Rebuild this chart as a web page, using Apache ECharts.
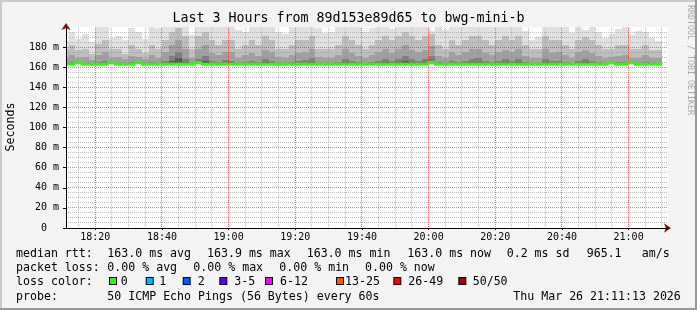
<!DOCTYPE html>
<html><head><meta charset="utf-8">
<script src="https://cdn.jsdelivr.net/npm/echarts@6/dist/echarts.min.js"></script>
<style>html,body{margin:0;padding:0;background:#f3f3f3}#c{width:697px;height:310px}</style>
</head><body><div id="c"></div>
<script>
// ---------- data ----------
const chartTitle = 'Last 3 Hours from 89d153e89d65 to bwg-mini-b';
const axisStart = '18:11:13';
const axisEnd = '21:11:49';
const majorTickLabels = ['18:20','18:40','19:00','19:20','19:40','20:00','20:20','20:40','21:00'];
const yTickValues = [0,20,40,60,80,100,120,140,160,180];

// end time of each 2-minute bucket
const bucketEnds = [
 "18:12","18:14","18:16","18:18","18:20","18:22","18:24","18:26","18:28","18:30",
 "18:32","18:34","18:36","18:38","18:40","18:42","18:44","18:46","18:48","18:50",
 "18:52","18:54","18:56","18:58","19:00","19:02","19:04","19:06","19:08","19:10",
 "19:12","19:14","19:16","19:18","19:20","19:22","19:24","19:26","19:28","19:30",
 "19:32","19:34","19:36","19:38","19:40","19:42","19:44","19:46","19:48","19:50",
 "19:52","19:54","19:56","19:58","20:00","20:02","20:04","20:06","20:08","20:10",
 "20:12","20:14","20:16","20:18","20:20","20:22","20:24","20:26","20:28","20:30",
 "20:32","20:34","20:36","20:38","20:40","20:42","20:44","20:46","20:48","20:50",
 "20:52","20:54","20:56","20:58","21:00","21:02","21:04","21:06","21:08","21:10"];

// median rtt (ms)
const medianRtt = [
 163.0,163.0,164.7,163.0,163.0,163.0,163.0,164.7,163.0,163.0,
 163.0,164.7,163.0,163.0,163.0,163.0,163.0,163.0,163.0,163.0,
 164.7,163.0,163.0,163.0,163.0,163.0,163.0,163.0,163.0,163.0,
 163.0,163.0,163.0,163.0,163.0,163.0,163.0,163.0,163.0,163.0,
 163.0,163.0,163.0,163.0,163.0,163.0,163.0,163.0,163.0,163.0,
 163.0,163.0,163.0,163.0,163.0,164.7,163.0,163.0,163.0,163.0,
 163.0,163.0,163.0,163.0,163.0,163.0,163.0,163.0,163.0,163.0,
 163.0,163.0,163.0,163.0,163.0,163.0,163.0,163.0,163.0,163.0,
 163.0,163.0,164.7,163.0,163.0,164.7,163.0,163.0,163.0,163.0];

// smoke: sorted ping times (ms) at ranks 30, 35, 40, 45, 50 of 50
const smokeP30 = [
 163.6,163.9,164.9,163.7,163.4,163.8,164.3,164.9,163.5,163.4,
 163.9,164.9,163.4,163.8,163.7,164.2,166.2,168.8,165.1,163.6,
 165.2,166.6,164.1,163.8,164.3,164.2,163.6,163.9,164.2,163.8,
 165.0,164.3,163.6,163.5,163.9,164.1,164.3,165.2,163.7,163.5,
 163.6,163.8,165.1,164.2,163.9,163.5,163.8,164.3,165.0,164.1,
 164.9,166.4,165.1,164.2,164.8,166.3,163.8,163.6,164.2,163.9,
 164.3,165.1,164.9,164.2,163.8,164.3,165.0,164.1,165.2,163.8,
 163.5,163.6,165.0,164.2,164.3,163.9,163.6,164.2,164.9,164.1,
 163.8,163.5,164.9,163.8,163.9,164.9,163.5,163.8,163.5,163.4];
const smokeP35 = [
 164.5,165.3,165.4,164.6,163.9,165.1,166.6,165.3,164.5,163.9,
 165.3,165.4,164.0,165.2,164.5,166.4,170.8,175.5,168.3,164.4,
 168.6,171.2,166.4,165.1,166.7,166.5,164.4,165.3,166.5,165.0,
 168.4,166.6,164.5,164.3,165.2,166.3,166.7,168.8,164.6,164.3,
 164.5,165.3,168.5,166.4,165.1,164.4,165.2,166.6,168.4,166.3,
 168.6,170.9,168.5,166.5,168.3,171.0,165.2,164.5,166.5,165.3,
 166.6,168.5,168.7,166.4,165.1,166.6,168.4,166.3,168.6,165.2,
 164.3,164.5,168.6,166.5,166.4,165.2,164.5,166.5,168.3,166.4,
 165.1,164.4,165.3,165.2,165.3,165.3,164.5,165.2,164.3,164.2];
const smokeP40 = [
 169.5,171.8,169.3,169.7,167.6,172.0,174.9,169.4,169.8,167.7,
 171.6,169.9,167.8,171.7,169.6,174.8,181.7,187.0,177.7,169.3,
 177.9,181.8,174.6,171.7,174.9,174.7,169.6,171.9,174.5,171.6,
 177.6,174.8,169.7,169.3,171.8,174.3,175.0,177.9,169.8,169.4,
 169.6,171.7,177.8,174.6,171.5,169.4,171.8,174.9,177.7,174.4,
 177.8,181.6,177.5,174.7,177.6,181.1,171.6,169.5,174.8,171.7,
 174.9,177.7,177.9,174.6,171.7,174.8,177.5,174.7,177.8,171.5,
 169.3,169.6,177.7,174.6,174.9,171.8,169.5,174.7,177.3,174.5,
 171.6,169.4,169.7,171.5,171.8,169.6,169.5,171.7,169.3,169.0];
const smokeP45 = [
 178.0,182.5,177.5,178.6,173.2,182.8,187.5,177.8,178.3,173.5,
 182.2,178.5,173.8,182.4,178.2,187.2,194.8,199.5,191.2,177.9,
 191.4,195.2,187.1,182.3,187.4,187.0,178.1,182.5,186.8,182.2,
 191.0,187.2,178.3,177.8,182.4,186.9,187.5,191.3,178.4,177.9,
 178.0,182.2,191.1,187.0,182.1,177.8,182.3,187.4,191.2,186.8,
 191.3,195.0,191.1,187.2,191.0,193.5,182.2,178.1,187.2,182.4,
 187.3,191.2,191.4,187.1,182.3,187.2,191.0,187.1,191.3,182.0,
 177.7,178.2,191.1,187.0,187.4,182.3,178.0,187.2,190.5,187.0,
 182.1,177.8,178.3,182.0,182.4,178.0,178.1,182.3,177.6,177.0];
const smokeMax = [
 186,195,188,193,185,200,204,189,191,187,
 199,195,188,200,199,206,210,214,207,192,
 206,211,204,200,205,206,197,195,203,201,
 206,204,195,193,200,203,205,207,199,194,
 195,200,206,204,201,195,199,204,207,198,
 206,210,207,205,206,196,200,197,204,201,
 205,206,207,204,200,205,206,204,207,196,
 187,190,206,204,205,200,194,204,197,203,
 195,189,193,198,200,192,196,195,189,186];

// legend texts
const rttLabel = 'median rtt:';
const rttStats = ['163.0 ms avg','163.9 ms max','163.0 ms min','163.0 ms now','0.2 ms sd','965.1','am/s'];
const lossLabel = 'packet loss:';
const lossStats = ['0.00 % avg','0.00 % max','0.00 % min','0.00 % now'];
const colorLabel = 'loss color:';
const lossBins = ['0','1','2','3-5','6-12','13-25','26-49','50/50'];
const lossBinColors = ['#26ff00','#00b8ff','#0059ff','#5e00ff','#ff00ff','#ff5500','#ff0000','#a10000'];
const probeLabel = 'probe:';
const probeText = '50 ICMP Echo Pings (56 Bytes) every 60s';
const stampText = 'Thu Mar 26 21:11:13 2026';
const watermark = 'RRDTOOL / TOBI OETIKER';
const yName = 'Seconds';

// ---------- helpers ----------
function toSec(s){ const p = s.split(':').map(Number); return p[0]*3600 + p[1]*60 + (p[2]||0); }
function fmtHM(v){ const h = Math.floor(v/3600), m = Math.round((v - h*3600)/60); return String(h).padStart(2,'0') + ':' + String(m).padStart(2,'0'); }

const xMin = toSec(axisStart), xMax = toSec(axisEnd);
const majorSecs = majorTickLabels.map(toSec);
const minorSecs = [];
for (let t = Math.ceil(xMin/300)*300; t <= xMax; t += 300) if (majorSecs.indexOf(t) < 0) minorSecs.push(t);
const yMajorVals = yTickValues.filter(v => v > 0);
const yMinorVals = [];
for (let v = 5; v < 200; v += 5) if (v % 20 !== 0) yMinorVals.push(v);

const ends = bucketEnds.map(toSec);
const stepSec = ends[1] - ends[0];

const bandColors = ['#585858','#7e7e7e','#a0a0a0','#bebebe','#e0e0e0'];
const smokeData = [];
const medianData = [];
for (let k = 0; k < ends.length; k++) {
  const te = ends[k], ts = te - stepSec;
  const lv = [medianRtt[k], smokeP30[k], smokeP35[k], smokeP40[k], smokeP45[k], smokeMax[k]];
  for (let b = 0; b < 5; b++) smokeData.push([ts, te, lv[b], lv[b+1], b]);
  medianData.push([ts, te, medianRtt[k], k > 0 ? medianRtt[k-1] : medianRtt[k]]);
}
// grid lines: [orientation (0 = vertical at time, 1 = horizontal at value), value]
const minorGridData = minorSecs.map(v => [0, v]).concat(yMinorVals.map(v => [1, v]));
const majorGridData = majorSecs.map(v => [0, v]).concat(yMajorVals.map(v => [1, v]));

function renderSmoke(params, api){
  const cs = params.coordSys;
  const a = api.coord([api.value(0), api.value(3)]);
  const b = api.coord([api.value(1), api.value(2)]);
  const x1 = Math.max(cs.x, Math.round(a[0])), x2 = Math.min(cs.x + cs.width, Math.round(b[0]));
  const y1 = Math.max(cs.y, Math.round(a[1])), y2 = Math.min(cs.y + cs.height, Math.round(b[1]));
  if (x2 <= x1 || y2 <= y1) return null;
  return {type:'rect', shape:{x:x1, y:y1, width:x2-x1, height:y2-y1}, style:{fill: bandColors[api.value(4)]}};
}
function renderMedian(params, api){
  const cs = params.coordSys;
  const p0 = api.coord([api.value(0), api.value(3)]);
  const p1 = api.coord([api.value(0), api.value(2)]);
  const p2 = api.coord([api.value(1), api.value(2)]);
  p0[0] = Math.max(p0[0], cs.x); p1[0] = Math.max(p1[0], cs.x);
  return {type:'polyline', shape:{points:[p0, p1, p2]}, style:{stroke: lossBinColors[0], lineWidth: 3, fill: null}};
}
// dotted grid lines drawn as 1px rects filled with a 1-on/1-off pattern
function dotPattern(color, vertical){
  const c = document.createElement('canvas');
  c.width = vertical ? 1 : 2; c.height = vertical ? 2 : 1;
  const g = c.getContext('2d'); g.fillStyle = color; g.fillRect(0, 0, 1, 1);
  return {image: c, repeat: 'repeat'};
}
function gridRenderer(color){
  const patV = dotPattern(color, true), patH = dotPattern(color, false);
  return function(params, api){
    const cs = params.coordSys;
    const kind = api.value(0), v = api.value(1);
    if (kind === 0) {
      const x = Math.floor(api.coord([v, 0])[0]);
      return {type:'rect', shape:{x:x, y:cs.y, width:1, height:cs.height}, style:{fill:patV}};
    }
    const y = Math.floor(api.coord([xMin, v])[1]);
    return {type:'rect', shape:{x:cs.x, y:y, width:cs.width, height:1}, style:{fill:patH}};
  };
}

const MONO = '"DejaVu Sans Mono", monospace';
const majorGrid = 'rgba(255,0,0,0.55)';
const minorGrid = 'rgba(140,140,140,0.55)';
const arrowColor = '#8b1010';

// ---------- layout (text positions) ----------
const L = {
  lineY: [253.6, 267.9, 282.2, 296.6],
  labelX: 16,
  rttX: [107.3, 207, 306.7, 407.3, 506.7, 586.7, 641.7],
  lossX: [107.3, 193.3, 279.3, 365],
  boxX: [109, 145.7, 182.7, 219.3, 265, 336, 393.3, 458.3],
  binX: [120.7, 159.3, 197.7, 234.3, 280, 345, 408.3, 472.7],
  probeX: 107.3, stampX: 513.3
};
const legendFont = '11.6px ' + MONO;
function txt(x, y, s){
  return {type:'text', x:x, y:y, silent:true,
    style:{text:s, font:legendFont, fill:'#000', textAlign:'left', align:'left', textVerticalAlign:'middle', verticalAlign:'middle'}};
}
const graphics = [
  {type:'rect', shape:{x:0,y:0,width:697,height:2}, style:{fill:'#cbcbcb'}, silent:true},
  {type:'rect', shape:{x:0,y:0,width:2,height:310}, style:{fill:'#cbcbcb'}, silent:true},
  {type:'rect', shape:{x:0,y:308,width:697,height:2}, style:{fill:'#999999'}, silent:true},
  {type:'rect', shape:{x:695,y:0,width:2,height:310}, style:{fill:'#999999'}, silent:true},
  {type:'text', x:690, y:5, rotation:-Math.PI/2, silent:true,
    style:{text:watermark, font:'8.3px ' + MONO, fill:'#a8a8a8', textAlign:'left', align:'left', textVerticalAlign:'middle', verticalAlign:'middle'}},
  {type:'text', x:11, y:127, rotation:Math.PI/2, silent:true,
    style:{text:yName, font:'11.6px ' + MONO, fill:'#000', textAlign:'center', align:'center', textVerticalAlign:'middle', verticalAlign:'middle'}},
  txt(L.labelX, L.lineY[0], rttLabel),
  txt(L.labelX, L.lineY[1], lossLabel),
  txt(L.labelX, L.lineY[2], colorLabel),
  txt(L.labelX, L.lineY[3], probeLabel),
  txt(L.probeX, L.lineY[3], probeText),
  txt(L.stampX, L.lineY[3], stampText)
];
rttStats.forEach((s, i) => graphics.push(txt(L.rttX[i], L.lineY[0], s)));
lossStats.forEach((s, i) => graphics.push(txt(L.lossX[i], L.lineY[1], s)));
lossBins.forEach((s, i) => {
  graphics.push({type:'rect', silent:true, shape:{x:L.boxX[i], y:L.lineY[2] - 5.2, width:8, height:8}, style:{fill:'#000'}});
  graphics.push({type:'rect', silent:true, shape:{x:L.boxX[i] + 1, y:L.lineY[2] - 4.2, width:6, height:6}, style:{fill:lossBinColors[i]}});
  graphics.push(txt(L.binX[i], L.lineY[2], s));
});

const axisFont = {fontFamily: MONO, fontSize: 10, color: '#000'};
const option = {
  animation: false,
  backgroundColor: '#f3f3f3',
  title: {text: chartTitle, left: 'center', top: 12, padding: 0,
    textStyle: {fontFamily: MONO, fontSize: 13.3, fontWeight: 'normal', color: '#000'}},
  grid: {left: 66, right: 29, top: 27, bottom: 82, show: true, backgroundColor: '#ffffff', borderWidth: 0, containLabel: false, outerBoundsMode: 'none'},
  xAxis: [
    {type:'value', min:xMin, max:xMax, position:'bottom', z:6,
      axisLine:{show:true, onZero:false, lineStyle:{color:'#000', width:1}},
      axisTick:{show:true, customValues:majorSecs, length:2, lineStyle:{color:'#000'}},
      axisLabel:{show:true, customValues:majorSecs, formatter:fmtHM, margin:4, ...axisFont},
      splitLine:{show:false}},
    {type:'value', min:xMin, max:xMax, position:'bottom', z:5.5,
      axisLine:{show:true, onZero:false, symbol:['none','arrow'], symbolSize:[7,7], symbolOffset:[0,3], lineStyle:{color:arrowColor}},
      axisTick:{show:false}, axisLabel:{show:false}, splitLine:{show:false}}
  ],
  yAxis: [
    {type:'value', min:0, max:200, position:'left', z:6,
      axisLine:{show:true, onZero:false, lineStyle:{color:'#000', width:1}},
      axisTick:{show:true, customValues:yTickValues, length:3, lineStyle:{color:'#000'}},
      axisLabel:{show:true, customValues:yTickValues, margin:7, formatter: v => (v === 0 ? '0  ' : v + ' m'), ...axisFont},
      splitLine:{show:false}},
    {type:'value', min:0, max:200, position:'left', z:5.5,
      axisLine:{show:true, onZero:false, symbol:['none','arrow'], symbolSize:[7,7], symbolOffset:[0,4], lineStyle:{color:arrowColor}},
      axisTick:{show:false}, axisLabel:{show:false}, splitLine:{show:false}}
  ],
  series: [
    {type:'custom', name:'smoke', xAxisIndex:0, yAxisIndex:0, z:2, silent:true, renderItem:renderSmoke, data:smokeData,
      encode:{x:[0,1], y:[2,3]}},
    {type:'custom', name:'minor grid', xAxisIndex:0, yAxisIndex:0, z:3, silent:true, renderItem:gridRenderer(minorGrid), data:minorGridData,
      encode:{x:1, y:1}},
    {type:'custom', name:'major grid', xAxisIndex:0, yAxisIndex:0, z:3.5, silent:true, renderItem:gridRenderer(majorGrid), data:majorGridData,
      encode:{x:1, y:1}},
    {type:'custom', name:'median rtt', xAxisIndex:0, yAxisIndex:0, z:5, silent:true, renderItem:renderMedian, data:medianData,
      encode:{x:[0,1], y:[2,3]}}
  ],
  graphic: {elements: graphics}
};
const chart = echarts.init(document.getElementById('c'), null, {renderer:'canvas', width:697, height:310});
chart.setOption(option);
</script>
</body></html>
